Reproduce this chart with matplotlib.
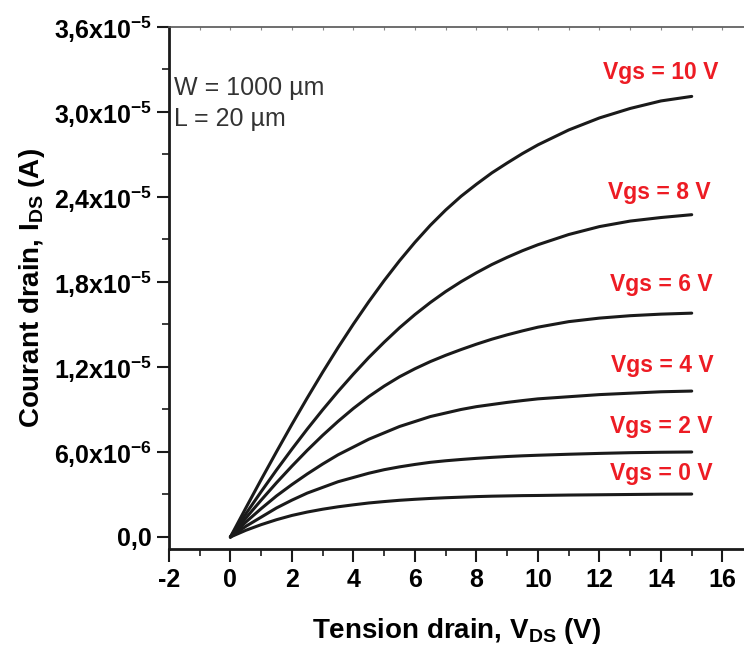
import numpy as np
import matplotlib.pyplot as plt
from matplotlib.ticker import MultipleLocator, FuncFormatter

plt.rcParams['font.family'] = ['Liberation Sans', 'DejaVu Sans']
plt.rcParams['font.weight'] = 'bold'
plt.rcParams['axes.unicode_minus'] = False
plt.rcParams['mathtext.fontset'] = 'custom'
plt.rcParams['mathtext.rm'] = 'Liberation Sans'
plt.rcParams['mathtext.bf'] = 'Liberation Sans:bold'
plt.rcParams['mathtext.it'] = 'Liberation Sans:italic'

################# data (current in 1e-6 A)

vds = [0, 0.5, 1, 1.5, 2, 2.5, 3, 3.5, 4, 4.5, 5, 5.5, 6, 6.5, 7, 7.5, 8,
       8.5, 9, 9.5, 10, 11, 12, 13, 14, 15]

ids_vgs10 = [0, 2.04, 4.05, 6.02, 7.95, 9.82, 11.63, 13.37, 15.03, 16.61, 18.1, 19.5, 20.8,
             22.0, 23.08, 24.05, 24.9, 25.7, 26.4, 27.07, 27.68, 28.73, 29.58, 30.25, 30.78, 31.1]
ids_vgs8 = [0, 1.63, 3.2, 4.73, 6.2, 7.62, 8.975, 10.27, 11.5, 12.67, 13.75, 14.77, 15.7,
            16.55, 17.325, 18.02, 18.65, 19.23, 19.74, 20.21, 20.63, 21.35, 21.91, 22.3, 22.55, 22.75]
ids_vgs6 = [0, 1.33, 2.6, 3.83, 5.0, 6.12, 7.175, 8.16, 9.075, 9.91, 10.65, 11.31, 11.875,
            12.38, 12.825, 13.23, 13.61, 13.96, 14.27, 14.55, 14.81, 15.2, 15.45, 15.62, 15.73, 15.8]
ids_vgs4 = [0, 1.05, 2.0, 2.9, 3.7, 4.45, 5.15, 5.8, 6.35, 6.9, 7.35, 7.8, 8.15,
            8.5, 8.75, 9.0, 9.2, 9.35, 9.5, 9.63, 9.75, 9.9, 10.05, 10.15, 10.25, 10.3]
ids_vgs2 = [0, 0.75, 1.4, 2.05, 2.6, 3.1, 3.5, 3.9, 4.2, 4.5, 4.75, 4.95, 5.12,
            5.27, 5.38, 5.47, 5.55, 5.62, 5.68, 5.73, 5.77, 5.84, 5.9, 5.95, 5.98, 6.0]
ids_vgs0 = [0, 0.47, 0.87, 1.22, 1.52, 1.76, 1.96, 2.13, 2.27, 2.4, 2.5, 2.59, 2.66,
            2.72, 2.77, 2.81, 2.85, 2.88, 2.9, 2.92, 2.93, 2.96, 2.98, 3.0, 3.02, 3.03]

curves = [ids_vgs10, ids_vgs8, ids_vgs6, ids_vgs4, ids_vgs2, ids_vgs0]
labels = ['Vgs = 10 V', 'Vgs = 8 V', 'Vgs = 6 V', 'Vgs = 4 V', 'Vgs = 2 V', 'Vgs = 0 V']
label_pos = [(14.0, 32.8), (13.95, 24.3), (14.0, 17.8), (14.05, 12.1), (14.0, 7.8), (14.0, 4.5)]


def sci_comma(v, pos):
    if abs(v) < 1e-12:
        return '0,0'
    e = int(np.floor(np.log10(abs(v)) + 1e-9))
    m = v / 10 ** e
    s = ('%.1f' % m).replace('.', ',')
    return r'%sx10$^{\mathbf{%d}}$' % (s, e)


fig = plt.figure(figsize=(7.44, 6.55), dpi=100)
ax = fig.add_axes([0.227, 0.1618, 0.773, 0.797])

x = np.array(vds)
for c in curves:
    ax.plot(x, np.array(c) * 1e-6, color='#1a1a1a', lw=2.2,
            solid_capstyle='round', solid_joinstyle='round')

for lab, (px, py) in zip(labels, label_pos):
    ax.text(px, py * 1e-6, lab, color='#ed1c24', fontsize=16.5, fontweight='bold',
            ha='center', va='center')

ax.text(-1.85, 30.6e-6, 'W = 1000 µm\nL = 20 µm', fontsize=18, color='#333333',
        fontweight='normal', ha='left', va='center', linespacing=1.35)

ax.set_xlim(-2, 16.7)
ax.set_ylim(-0.85e-6, 3.6e-5)

ax.xaxis.set_major_locator(MultipleLocator(2))
ax.xaxis.set_minor_locator(MultipleLocator(1))
ax.yaxis.set_major_locator(MultipleLocator(6e-6))
ax.yaxis.set_minor_locator(MultipleLocator(3e-6))
ax.yaxis.set_major_formatter(FuncFormatter(sci_comma))
ax.xaxis.set_major_formatter(FuncFormatter(lambda v, p: '%d' % v))

ax.tick_params(which='major', direction='out', length=9, width=1.5, labelsize=18, color='#1a1a1a')
ax.tick_params(which='minor', direction='out', length=5, width=1.2, color='#1a1a1a')
ax.tick_params(axis='x', pad=5)
ax.tick_params(axis='y', pad=3)

ax.spines['right'].set_visible(False)
ax.spines['left'].set_linewidth(2)
ax.spines['bottom'].set_linewidth(2)
ax.spines['left'].set_color('#1a1a1a')
ax.spines['bottom'].set_color('#1a1a1a')
ax.spines['top'].set_linewidth(1.2)
ax.spines['top'].set_color('#555555')

top = ax.secondary_xaxis('top')
top.xaxis.set_major_locator(MultipleLocator(1))
top.tick_params(direction='in', length=2, width=0.8, color='#888888', labeltop=False)
top.spines['top'].set_visible(False)

ax.set_xlabel(r'Tension drain, V$_{\mathbf{DS}}$ (V)', fontsize=20, fontweight='bold', labelpad=17)
ax.set_ylabel(r'Courant drain, I$_{\mathbf{DS}}$ (A)', fontsize=20, fontweight='bold', labelpad=5)

fig.savefig('out.png', dpi=100)
